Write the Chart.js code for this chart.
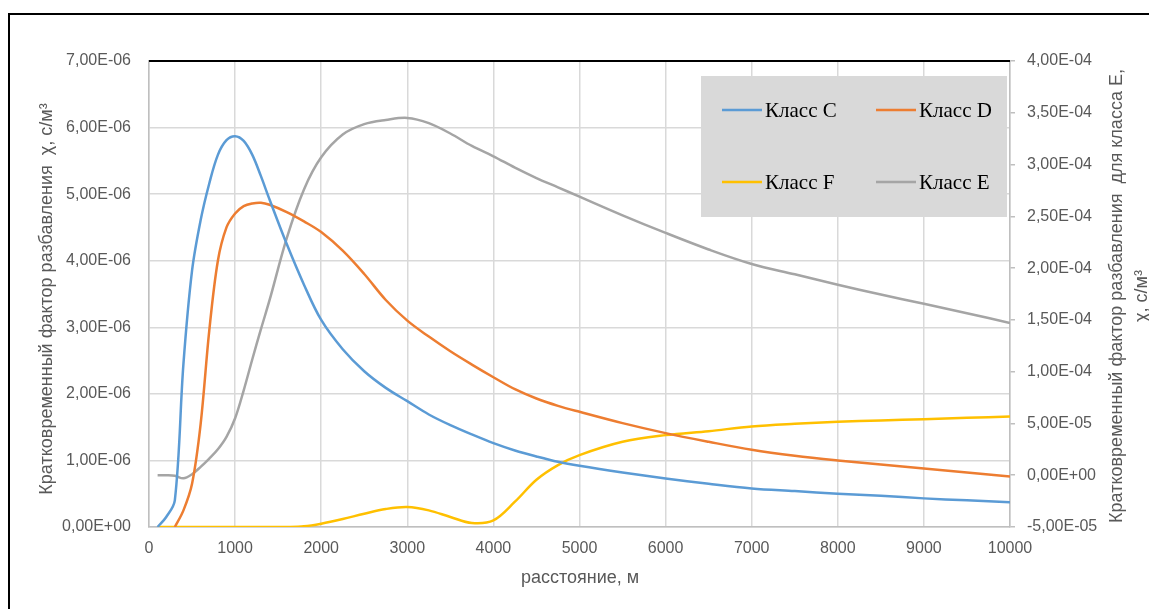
<!DOCTYPE html>
<html>
<head>
<meta charset="utf-8">
<script src="https://cdn.jsdelivr.net/npm/chart.js@4.4.1/dist/chart.umd.min.js"></script>
<style>
  html, body { margin: 0; padding: 0; background: #fff; }
  canvas { display: block; }
</style>
</head>
<body>
<canvas id="chart" width="1149" height="609"></canvas>
<script>
// distance, m
const distances = [100, 200, 300, 400, 500, 600, 700, 800, 900, 1000, 1100, 1200, 1300, 1400, 1600, 1800, 2000,
    2250, 2500, 2750, 3000, 3250, 3500, 3750, 4000, 4250, 4500, 4750, 5000, 5500, 6000, 6500, 7000, 7500,
    8000, 8500, 9000, 9500, 10000];

// classes C, D, F on the left axis, values x 1E-06
const classC = [0, 0.15, 0.40, 2.45, 3.85, 4.61, 5.16, 5.59, 5.81, 5.87, 5.80, 5.59, 5.27, 4.92, 4.25, 3.64, 3.11,
    2.67, 2.34, 2.09, 1.89, 1.69, 1.53, 1.39, 1.26, 1.15, 1.06, 0.98, 0.92, 0.82, 0.73, 0.65, 0.58, 0.54,
    0.50, 0.47, 0.43, 0.40, 0.37];
const classD = [null, null, 0, 0.25, 0.65, 1.55, 2.95, 4.00, 4.50, 4.71, 4.82, 4.86, 4.87, 4.84, 4.73, 4.59, 4.43,
    4.15, 3.80, 3.41, 3.10, 2.86, 2.64, 2.44, 2.25, 2.07, 1.93, 1.82, 1.73, 1.56, 1.41, 1.28, 1.16, 1.07,
    1.00, 0.94, 0.88, 0.82, 0.76];
const classF = [0, 0, 0, 0, 0, 0, 0, 0, 0, 0, 0, 0, 0, 0, 0, 0.01, 0.05,
    0.12, 0.20, 0.27, 0.30, 0.25, 0.15, 0.06, 0.10, 0.38, 0.71, 0.93, 1.08, 1.28, 1.38, 1.44, 1.51, 1.55,
    1.58, 1.60, 1.62, 1.64, 1.66];
// class E on the right axis, values x 1E-05
const classE = [0, 0, -0.05, -0.3, 0.1, 0.8, 1.6, 2.5, 3.7, 5.5, 8.2, 11.2, 14.1, 16.9, 22.9, 27.6, 30.7,
    32.9, 33.9, 34.3, 34.5, 34.0, 33.0, 31.8, 30.8, 29.7, 28.7, 27.8, 26.9, 25.1, 23.4, 21.8, 20.4, 19.4,
    18.4, 17.45, 16.55, 15.65, 14.7];

const seriesNames = ['Класс C', 'Класс D', 'Класс F', 'Класс E'];
const seriesColors = ['#5B9BD5', '#ED7D31', '#FFC000', '#A5A5A5'];

const leftAxis = { min: 0, max: 7e-6, step: 1e-6 };
const rightAxis = { min: -5e-5, max: 4e-4, step: 5e-5 };
const xAxis = { min: 0, max: 10000, step: 1000 };

const leftTitle = 'Кратковременный фактор разбавления  χ, с/м³';
const rightTitle = ['Кратковременный фактор разбавления  для класса Е,', 'χ, с/м³'];
const bottomTitle = 'расстояние, м';

const TEXT = '#595959';
const GRID = '#d9d9d9';
const AXIS = '#bfbfbf';

function sci(v) {
    if (Math.abs(v) < 1e-12) v = 0;
    const [m, e] = v.toExponential(2).split('e');
    const n = parseInt(e, 10);
    return m.replace('.', ',') + 'E' + (n < 0 ? '-' : '+') + String(Math.abs(n)).padStart(2, '0');
}

const toPoints = (vals, scale) => distances.map((d, i) => ({ x: d, y: vals[i] === null ? null : vals[i] * scale }));

function line(idx, vals, scale, axis) {
    return {
        label: seriesNames[idx],
        data: toPoints(vals, scale),
        yAxisID: axis,
        borderColor: seriesColors[idx],
        backgroundColor: seriesColors[idx],
        borderWidth: 2.5,
        pointRadius: 0,
        fill: false,
        tension: 0.35
    };
}

// titles, frame and the grey legend box
const decorations = {
    id: 'decorations',
    afterDraw(chart) {
        const ctx = chart.ctx;
        const area = chart.chartArea;
        ctx.save();

        ctx.strokeStyle = '#000';
        ctx.lineWidth = 2;
        ctx.beginPath();
        ctx.moveTo(9, 609);
        ctx.lineTo(9, 14);
        ctx.lineTo(1149, 14);
        ctx.stroke();

        ctx.beginPath();
        ctx.moveTo(area.left, area.top);
        ctx.lineTo(area.right, area.top);
        ctx.stroke();

        ctx.fillStyle = TEXT;
        ctx.font = '18px "Liberation Sans", Arial, sans-serif';
        ctx.textAlign = 'center';
        ctx.textBaseline = 'middle';
        ctx.fillText(bottomTitle, 580, 578);

        ctx.save();
        ctx.translate(47, 299);
        ctx.rotate(-Math.PI / 2);
        ctx.fillText(leftTitle, 0, 0);
        ctx.restore();

        ctx.save();
        ctx.translate(1117, 296);
        ctx.rotate(-Math.PI / 2);
        ctx.fillText(rightTitle[0], 0, 0);
        ctx.fillText(rightTitle[1], 0, 25);
        ctx.restore();

        // legend
        ctx.fillStyle = '#d9d9d9';
        ctx.fillRect(701, 76, 306, 141);
        const slots = [[722, 110], [876, 110], [722, 182], [876, 182]];
        ctx.font = '21px "Liberation Serif", "Times New Roman", serif';
        ctx.textAlign = 'left';
        slots.forEach(([x, y], i) => {
            ctx.strokeStyle = seriesColors[i];
            ctx.lineWidth = 2.5;
            ctx.beginPath();
            ctx.moveTo(x, y);
            ctx.lineTo(x + 40, y);
            ctx.stroke();
            ctx.fillStyle = '#000';
            ctx.fillText(seriesNames[i], x + 43, y + 1);
        });
        ctx.restore();
    }
};

const tickFont = { family: '"Liberation Sans", Arial, sans-serif', size: 16 };

new Chart(document.getElementById('chart').getContext('2d'), {
    type: 'line',
    data: {
        datasets: [
            line(0, classC, 1e-6, 'y'),
            line(1, classD, 1e-6, 'y'),
            line(2, classF, 1e-6, 'y'),
            line(3, classE, 1e-5, 'y2')
        ]
    },
    options: {
        responsive: false,
        animation: false,
        events: [],
        layout: { padding: { top: 61, left: 0, right: 0, bottom: 0 } },
        plugins: {
            legend: { display: false },
            tooltip: { enabled: false }
        },
        scales: {
            x: {
                type: 'linear',
                min: xAxis.min,
                max: xAxis.max,
                afterFit: (s) => { s.height = 82; },
                ticks: {
                    stepSize: xAxis.step, color: TEXT, font: tickFont, padding: 12, maxRotation: 0,
                    callback: (v) => String(v)
                },
                grid: { color: GRID, lineWidth: 1.5, drawTicks: false },
                border: { color: AXIS, width: 1.5 }
            },
            y: {
                position: 'left',
                min: leftAxis.min,
                max: leftAxis.max,
                afterFit: (s) => { s.width = 149; },
                ticks: { stepSize: leftAxis.step, color: TEXT, font: tickFont, padding: 18, callback: sci },
                grid: { color: GRID, lineWidth: 1.5, drawTicks: false },
                border: { color: AXIS, width: 1.5 }
            },
            y2: {
                position: 'right',
                min: rightAxis.min,
                max: rightAxis.max,
                afterFit: (s) => { s.width = 139; },
                ticks: { stepSize: rightAxis.step, color: TEXT, font: tickFont, padding: 12, callback: sci },
                grid: { drawOnChartArea: false, color: AXIS, tickLength: 5, lineWidth: 1.5 },
                border: { color: AXIS, width: 1.5 }
            }
        }
    },
    plugins: [decorations]
});
</script>
</body>
</html>
